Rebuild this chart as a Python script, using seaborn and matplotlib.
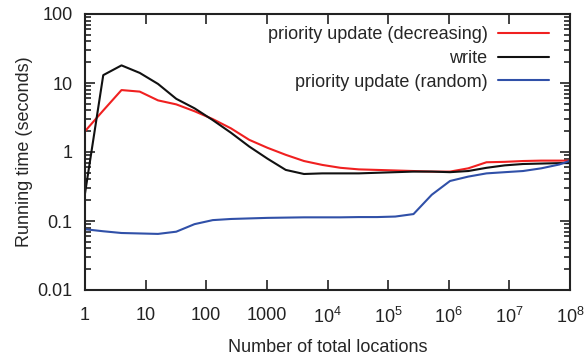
import numpy as np
import pandas as pd
import matplotlib
matplotlib.use("Agg")
import matplotlib.pyplot as plt
import matplotlib.ticker as mticker
import seaborn as sns

# Problem sizes: powers of two from 1 up past 10^8
locations = [2 ** k for k in range(28)]

prio_decreasing = [2.0, 4.0, 7.9, 7.5, 5.6, 4.9, 3.9, 3.0, 2.2, 1.5,
                   1.15, 0.91, 0.74, 0.65, 0.59, 0.56, 0.55, 0.54, 0.53, 0.52,
                   0.52, 0.58, 0.71, 0.72, 0.74, 0.75, 0.75, 0.75]
write = [0.25, 13.0, 18.0, 14.0, 9.7, 5.9, 4.3, 2.9, 1.9, 1.2,
         0.8, 0.55, 0.48, 0.49, 0.49, 0.49, 0.50, 0.51, 0.52, 0.52,
         0.51, 0.53, 0.59, 0.64, 0.67, 0.68, 0.69, 0.69]
prio_random = [0.076, 0.071, 0.067, 0.066, 0.065, 0.070, 0.090, 0.103, 0.107, 0.109,
               0.111, 0.112, 0.113, 0.113, 0.113, 0.114, 0.114, 0.116, 0.126, 0.24,
               0.38, 0.44, 0.49, 0.51, 0.53, 0.58, 0.66, 0.82]

series_names = ["priority update (decreasing)", "write", "priority update (random)"]
series_colors = ["#f02020", "#111111", "#3050a8"]

x_ticks = [10 ** k for k in range(9)]
x_tick_labels = ["1", "10", "100", "1000", r"$10^{4}$", r"$10^{5}$",
                 r"$10^{6}$", r"$10^{7}$", r"$10^{8}$"]
y_ticks = [0.01, 0.1, 1, 10, 100]
y_tick_labels = ["0.01", "0.1", "1", "10", "100"]

df = pd.concat([
    pd.DataFrame({"locations": locations, "time": vals, "series": name})
    for name, vals in zip(series_names, [prio_decreasing, write, prio_random])
], ignore_index=True)

sns.set_style("ticks")
plt.rcParams["font.family"] = ["Liberation Sans", "DejaVu Sans"]
plt.rcParams["mathtext.default"] = "regular"
plt.rcParams["font.size"] = 13

fig = plt.figure(figsize=(5.84, 3.58), dpi=100)
ax = fig.add_axes([85 / 584, 1 - 290 / 358, 485 / 584, 276 / 358])

sns.lineplot(data=df, x="locations", y="time", hue="series",
             hue_order=series_names, palette=series_colors,
             linewidth=1.5, ax=ax, legend=True)

ax.set_xscale("log")
ax.set_yscale("log")
ax.set_xlim(1, 1e8)
ax.set_ylim(0.01, 100)

ax.set_xticks(x_ticks)
ax.set_xticklabels(x_tick_labels)
ax.xaxis.set_minor_locator(mticker.NullLocator())
ax.set_yticks(y_ticks)
ax.set_yticklabels(y_tick_labels)
ax.yaxis.set_minor_locator(mticker.LogLocator(base=10, subs=np.arange(2, 10)))
ax.yaxis.set_minor_formatter(mticker.NullFormatter())

ax.tick_params(which="both", direction="in", top=True, right=True,
               labelsize=13, colors="#222222", width=1.2)
ax.tick_params(which="major", length=7, pad=9)
ax.tick_params(which="minor", length=4)
ax.tick_params(axis="x", which="major", pad=12)
for side in ax.spines.values():
    side.set_visible(True)
    side.set_linewidth(1.5)
    side.set_color("#222222")

ax.set_xlabel("Number of total locations", fontsize=13, labelpad=9)
ax.set_ylabel("Running time (seconds)", fontsize=13, labelpad=3)

handles, labels = ax.get_legend_handles_labels()
leg = ax.legend(handles, labels, loc="upper right", frameon=False,
                markerfirst=False, handlelength=2.8, handletextpad=0.6,
                labelspacing=0.38, borderpad=0, borderaxespad=0,
                fontsize=13, bbox_to_anchor=(549 / 584, 1 - 26 / 358),
                bbox_transform=fig.transFigure)
for ln in leg.get_lines():
    ln.set_linewidth(1.5)

fig.savefig("out.png", dpi=100)
